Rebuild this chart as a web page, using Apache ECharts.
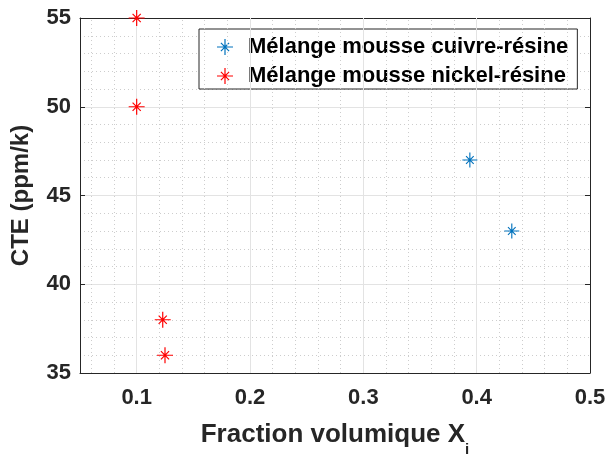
<!DOCTYPE html>
<html><head><meta charset="utf-8">
<script src="https://cdn.jsdelivr.net/npm/echarts@6/dist/echarts.min.js"></script>
<style>html,body{margin:0;padding:0;background:#fff}#c{width:608px;height:454px}</style>
</head><body><div id="c"></div>
<script>
// ---- data ----
const seriesNames = ['Mélange mousse cuivre-résine', 'Mélange mousse nickel-résine'];
const cuivreX = [0.394, 0.431];
const cuivreY = [47, 43];
const nickelX = [0.100, 0.100, 0.123, 0.125];
const nickelY = [55, 50, 38, 36];
const xTicks = [0.1, 0.2, 0.3, 0.4, 0.5];
const xMajorGrid = [0.1, 0.2, 0.3, 0.4];
const xMinorGrid = [0.06, 0.08, 0.12, 0.14, 0.16, 0.18, 0.22, 0.24, 0.26, 0.28,
                    0.32, 0.34, 0.36, 0.38, 0.42, 0.44, 0.46, 0.48];
const yTicks = [35, 40, 45, 50, 55];

const TXT = '#262626';
const FONT = 'Liberation Sans';
// asterisk marker (filled thin bars)
const STAR = 'path://M-0.075,-1L0.075,-1L0.075,1L-0.075,1Z' +
  'M-1,-0.075L1,-0.075L1,0.075L-1,0.075Z' +
  'M-0.563,-0.457L-0.457,-0.563L0.563,0.457L0.457,0.563Z' +
  'M0.457,-0.563L0.563,-0.457L-0.457,0.563L-0.563,0.457Z';

const zip = (a, b) => a.map((v, i) => [v, b[i]]);
const chart = echarts.init(document.getElementById('c'), null, {renderer: 'canvas'});
const axisCommon = {
  axisLine: {show: true, onZero: false, lineStyle: {color: TXT, width: 1}},
  axisTick: {show: true, inside: true, length: 5, lineStyle: {color: TXT}},
};
chart.setOption({
  animation: false,
  backgroundColor: '#fff',
  grid: {left: 80, top: 18, right: 18, bottom: 81, containLabel: false, outerBoundsMode: 'none'},
  legend: {
    orient: 'vertical', left: 199, top: 29,
    data: seriesNames.map(n => ({name: n, icon: STAR})),
    itemWidth: 16, itemHeight: 16, itemGap: 7,
    padding: [7, 9, 2, 18],
    backgroundColor: '#fff', borderColor: TXT, borderWidth: 1,
    textStyle: {fontFamily: FONT, fontWeight: 'bold', fontSize: 22, color: '#000', lineHeight: 16, padding: [0, 0, 0, 10]},
    selectedMode: false
  },
  xAxis: [{
    type: 'value', min: 0.05, max: 0.5, position: 'bottom',
    ...axisCommon,
    axisTick: {...axisCommon.axisTick, customValues: xTicks},
    axisLabel: {customValues: xTicks, margin: 14, fontFamily: FONT, fontWeight: 'bold', fontSize: 22, color: TXT,
      formatter: v => v.toFixed(1)},
    splitLine: {show: false},
    name: '{m|Fraction volumique X}{sub|i}', nameLocation: 'middle', nameGap: 49,
    nameTextStyle: {fontFamily: FONT, fontWeight: 'bold', fontSize: 26, color: TXT, verticalAlign: 'top',
      rich: {
        m: {fontFamily: FONT, fontWeight: 'bold', fontSize: 26, color: TXT, verticalAlign: 'top'},
        sub: {fontFamily: FONT, fontWeight: 'bold', fontSize: 15, color: TXT, verticalAlign: 'top', padding: [20, 0, 0, 0]}
      }}
  }, {
    type: 'value', min: 0.05, max: 0.5, position: 'top',
    ...axisCommon,
    axisTick: {...axisCommon.axisTick, customValues: xTicks},
    axisLabel: {show: false}, splitLine: {show: false}
  }],
  yAxis: [{
    type: 'value', min: 35, max: 55, interval: 5, position: 'left',
    ...axisCommon,
    axisLabel: {margin: 9, fontFamily: FONT, fontWeight: 'bold', fontSize: 22, color: TXT},
    splitLine: {show: true, lineStyle: {color: '#e3e3e3', width: 1}},
    minorTick: {show: false, splitNumber: 5},
    minorSplitLine: {show: true, lineStyle: {color: '#cdcdcd', width: 1, type: [1, 3]}},
    name: 'CTE (ppm/k)', nameLocation: 'middle', nameGap: 47, nameRotate: 90,
    nameTextStyle: {fontFamily: FONT, fontWeight: 'bold', fontSize: 24, color: TXT}
  }, {
    type: 'value', min: 35, max: 55, interval: 5, position: 'right',
    ...axisCommon,
    axisLabel: {show: false}, splitLine: {show: false}
  }],
  series: [{
    name: 'gridlines', type: 'line', data: [], z: 1, silent: true,
    markLine: {
      silent: true, symbol: ['none', 'none'], label: {show: false}, animation: false,
      data: [
        ...xMinorGrid.map(v => ({xAxis: v, lineStyle: {color: '#cdcdcd', width: 1, type: [1, 3]}})),
        ...xMajorGrid.map(v => ({xAxis: v, lineStyle: {color: '#e3e3e3', width: 1, type: 'solid'}}))
      ]
    }
  }, {
    name: seriesNames[0], type: 'scatter', z: 5, symbol: STAR, symbolSize: 15,
    itemStyle: {color: '#0072bd', opacity: 1},
    data: zip(cuivreX, cuivreY)
  }, {
    name: seriesNames[1], type: 'scatter', z: 5, symbol: STAR, symbolSize: 16,
    itemStyle: {color: '#ff0000', opacity: 1},
    data: zip(nickelX, nickelY)
  }]
});
</script></body></html>
